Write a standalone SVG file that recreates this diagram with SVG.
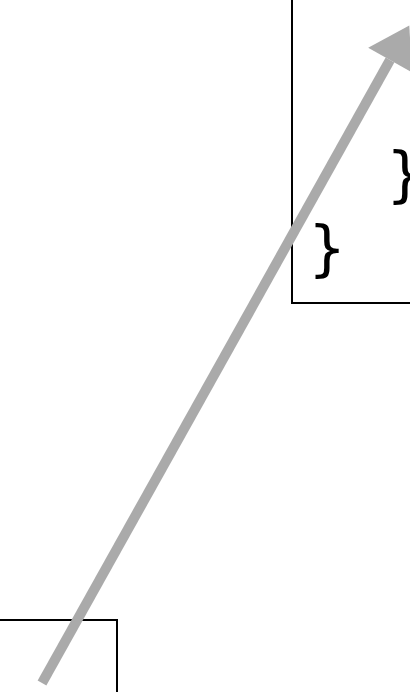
<svg xmlns="http://www.w3.org/2000/svg" width="410" height="692" viewBox="0 0 410 692">
<style>
.box{fill:none;stroke:#000;stroke-width:2}
.br{font-family:"DejaVu Sans",sans-serif;font-size:60px;fill:#000}
.conn{stroke:#aaa;stroke-width:10;fill:none}
</style>
<defs>
<marker id="ah" markerUnits="userSpaceOnUse" markerWidth="50" markerHeight="50" refX="0" refY="24" orient="auto" viewBox="0 0 40 48">
<path d="M0,0 L38,24 L0,48 Z" fill="#aaa"/>
</marker>
</defs>
<rect width="410" height="692" fill="#fff"/>
<g id="node-top">
<rect class="box" x="292" y="-10" width="130" height="313"/>
<text class="br" x="386" y="195">}</text>
<text class="br" x="308" y="269">}</text>
</g>
<g id="node-bottom">
<rect class="box" x="-10" y="620" width="127" height="90"/>
</g>
<g id="connectors">
<path class="conn" d="M42,683 L390,60" marker-end="url(#ah)"/>
</g>
</svg>
